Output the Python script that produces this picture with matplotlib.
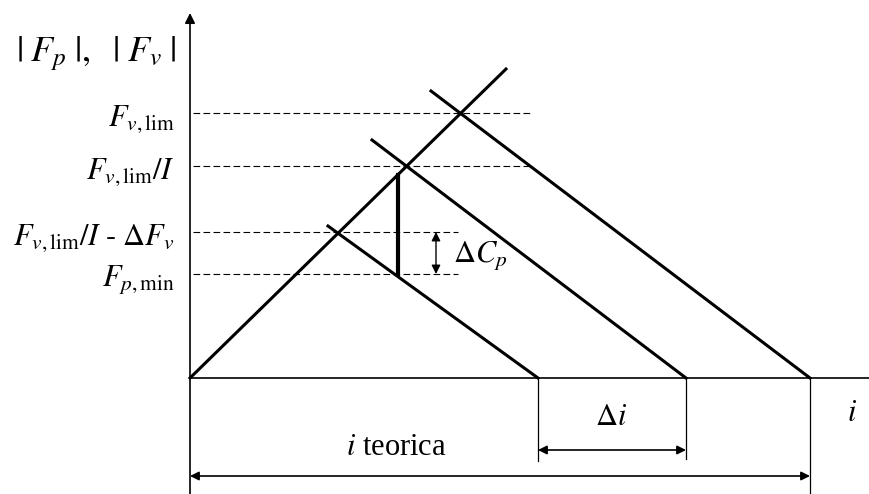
import matplotlib
matplotlib.use("Agg")
import matplotlib.pyplot as plt

plt.rcParams['mathtext.fontset'] = 'stix'
plt.rcParams['font.family'] = ['Liberation Serif', 'DejaVu Serif']

# schematic values (origin at axes crossing, y up)
levels = [265, 212, 146, 104]
level_labels = [r'$F_{v,\mathrm{lim}}$', r'$F_{v,\mathrm{lim}}/I$',
                r'$F_{v,\mathrm{lim}}/I\ \text{-}\ \Delta F_v$', r'$F_{p,\mathrm{min}}$']
dash_end = [340, 340, 268, 268]
rise_x = [0, 316]
rise_y = [0, 309]
fall_x = [[138, 348], [182, 496], [241, 620]]
fall_y = [[152, 0], [238, 0], [287, 0]]
dcp_x = 208
dcp_y = [104, 203]
i_ends = [348, 496, 620]

fig = plt.figure(figsize=(8.69, 4.94), dpi=100)
ax = fig.add_axes([0, 0, 1, 1])
ax.set_xlim(-190, 679)
ax.set_ylim(-116, 378)
ax.axis('off')

# axes
ax.annotate('', xy=(0, 365), xytext=(0, -116),
            arrowprops=dict(arrowstyle='-|>', lw=1.2, color='black',
                            mutation_scale=15, shrinkA=0, shrinkB=0))
ax.plot([0, 679], [0, 0], color='black', lw=1.2)

# dashed levels
for lv, end, lab in zip(levels, dash_end, level_labels):
    ax.plot([3, end], [lv, lv], color='black', lw=0.8, dashes=(6, 3))
    ax.text(-15, lv - 6, lab, ha='right', va='center', fontsize=22)

# y label: bars as plain text so they stay thin and tall
ax.text(-94, 324, r'$|\;F_p\;|,\ \ |\;F_v\;|$', ha='center', va='center',
        fontsize=26)

# rising and falling lines
ax.plot(rise_x, rise_y, color='black', lw=2.2)
for fx, fy in zip(fall_x, fall_y):
    ax.plot(fx, fy, color='black', lw=2.2)

# delta C_p
ax.plot([dcp_x, dcp_x], dcp_y, color='black', lw=3)
ax.annotate('', xy=(246, levels[3]), xytext=(246, levels[2]),
            arrowprops=dict(arrowstyle='<|-|>', lw=1, color='black',
                            mutation_scale=13, shrinkA=0, shrinkB=0))
ax.text(263, 123, r'$\Delta C_p$', ha='left', va='center', fontsize=22)

# bottom dimension lines
ax.plot([i_ends[0], i_ends[0]], [0, -83], color='black', lw=0.9)
ax.plot([i_ends[1], i_ends[1]], [0, -81], color='black', lw=0.9)
ax.plot([i_ends[2], i_ends[2]], [0, -116], color='black', lw=0.9)
ax.annotate('', xy=(i_ends[1], -72), xytext=(i_ends[0], -72),
            arrowprops=dict(arrowstyle='<|-|>', lw=1.2, color='black',
                            mutation_scale=13, shrinkA=0, shrinkB=0))
ax.annotate('', xy=(i_ends[2], -98), xytext=(0, -98),
            arrowprops=dict(arrowstyle='<|-|>', lw=1.2, color='black',
                            mutation_scale=13, shrinkA=0, shrinkB=0))
ax.text(421, -39, r'$\Delta i$', ha='center', va='center', fontsize=22)
ax.text(206, -69, r'$i$ teorica', ha='center', va='center', fontsize=22)
ax.text(662, -35, r'$i$', ha='center', va='center', fontsize=22)

fig.savefig('out.png', dpi=100)
